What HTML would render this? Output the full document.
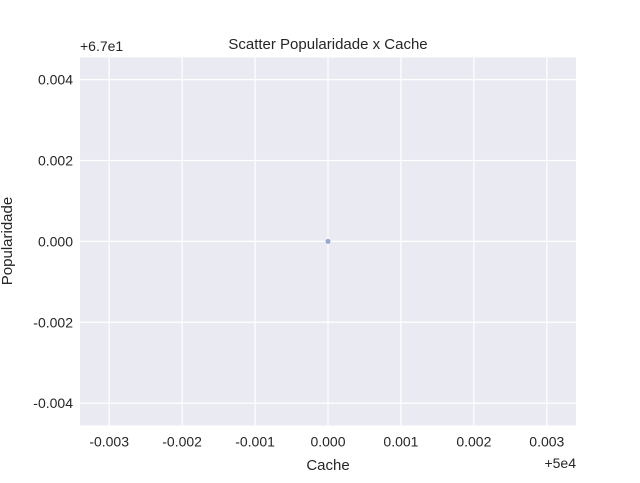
<!DOCTYPE html>
<html><head><meta charset="utf-8"><style>
body{margin:0;background:#fff;}
svg{font-family:"Liberation Sans","DejaVu Sans",sans-serif;}
</style></head><body>
<svg id="chart" width="640" height="478" xmlns="http://www.w3.org/2000/svg">
<rect x="0" y="0" width="640" height="478" fill="#fff"/>
<rect x="80" y="57.4" width="496" height="368" fill="#eaeaf2"/>
<g id="grid"></g>
<g id="ticks"></g>
<g id="points"></g>
<text x="328" y="49" text-anchor="middle" font-size="15" fill="#262626">Scatter Popularidade x Cache</text>
<text x="328" y="470" text-anchor="middle" font-size="15" fill="#262626">Cache</text>
<text x="0" y="0" transform="translate(12,241) rotate(-90)" text-anchor="middle" font-size="15" fill="#262626">Popularidade</text>
<text x="80" y="51" font-size="14" fill="#262626">+6.7e1</text>
<text x="576" y="468" text-anchor="end" font-size="14" fill="#262626">+5e4</text>
</svg>
<script>
const xTicks=[-0.003,-0.002,-0.001,0.000,0.001,0.002,0.003];
const yTicks=[-0.004,-0.002,0.000,0.002,0.004];
const ptX=[0.0];
const ptY=[0.0];
const L=80,R=576,T=57.4,B=425.4;
const xMin=-0.0034,xMax=0.0034,yMin=-0.00455,yMax=0.00455;
function sx(v){return L+(v-xMin)/(xMax-xMin)*(R-L);}
function sy(v){return B-(v-yMin)/(yMax-yMin)*(B-T);}
const ns="http://www.w3.org/2000/svg";
const grid=document.getElementById('grid'),ticks=document.getElementById('ticks'),pts=document.getElementById('points');
function mk(tag,attrs,parent){const e=document.createElementNS(ns,tag);for(const k in attrs)e.setAttribute(k,attrs[k]);parent.appendChild(e);return e;}
xTicks.forEach(v=>{
 const l=mk('line',{x1:sx(v),x2:sx(v),y1:T,y2:B,stroke:'#fff','stroke-width':1.2},grid);
 
 
 const t=mk('text',{x:sx(v),y:B+21,'text-anchor':'middle','font-size':14,fill:'#262626'},ticks);
 t.textContent=v.toFixed(3);
 
 
});
yTicks.forEach(v=>{
 const l=mk('line',{x1:L,x2:R,y1:sy(v),y2:sy(v),stroke:'#fff','stroke-width':1.2},grid);
 
 
 const t=mk('text',{x:L-7,y:sy(v)+5,'text-anchor':'end','font-size':14,fill:'#262626'},ticks);
 t.textContent=v.toFixed(3);
 
 
});
ptX.forEach((v,i)=>{
 const c=mk('circle',{cx:sx(v),cy:sy(ptY[i]),r:2.7,fill:'#4c72b0','fill-opacity':0.6,stroke:'#fff','stroke-width':0.4},pts);
 
 
});
</script>
</body></html>
